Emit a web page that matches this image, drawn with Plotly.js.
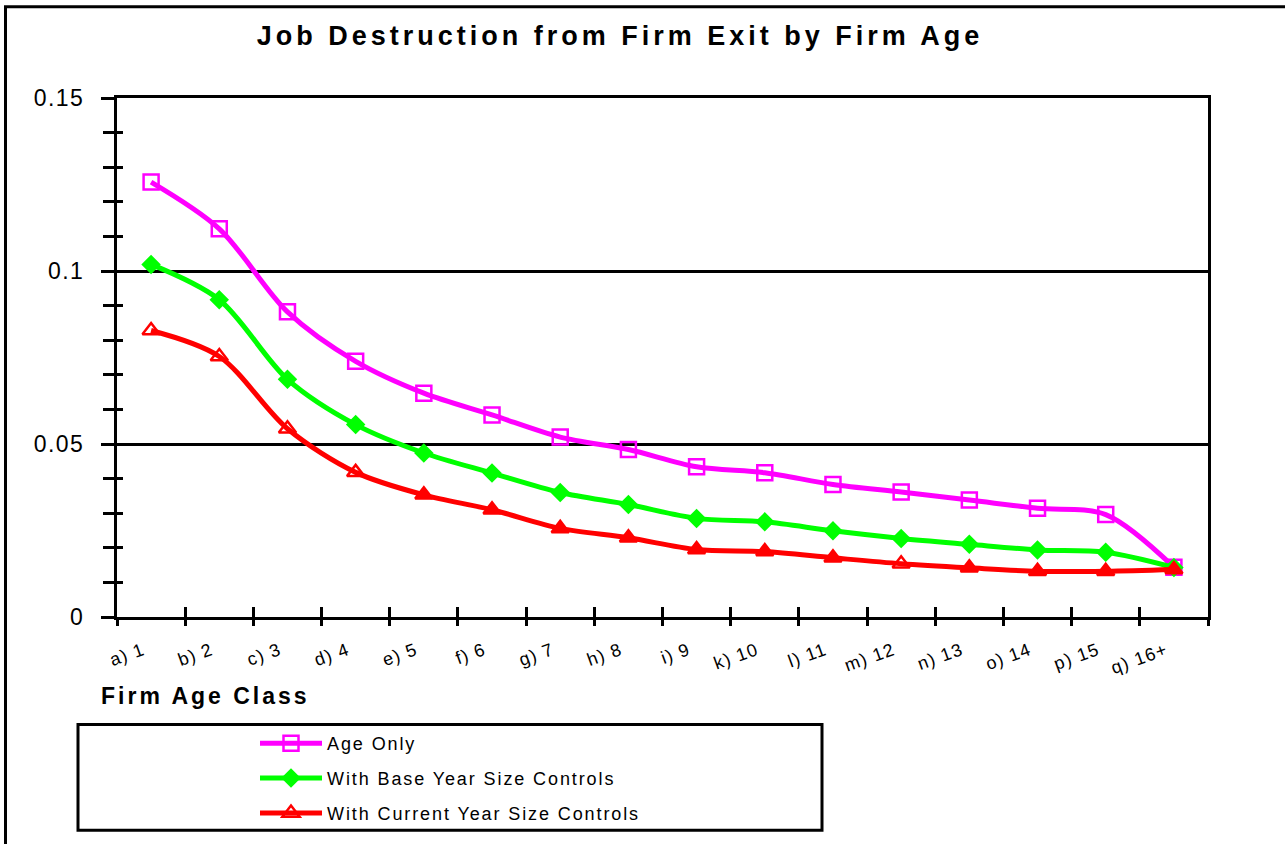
<!DOCTYPE html>
<html>
<head>
<meta charset="utf-8">
<script src="https://cdn.plot.ly/plotly-3.0.1.min.js"></script>
<style>
  html, body { margin: 0; padding: 0; background: #fff; }
  #chart { width: 1285px; height: 844px; }
  .gtitle { letter-spacing: 4px; }
  .legendtext, text[class^="legend"] { letter-spacing: 1.9px; }
  .annotation-text { letter-spacing: 3px; }
  .xtick text { letter-spacing: 1.2px; }
  .ytick text { letter-spacing: 1.5px; }
</style>
</head>
<body>
<div id="chart"></div>
<script>
// ---- data ----
const ageClasses = ["a) 1", "b) 2", "c) 3", "d) 4", "e) 5", "f) 6", "g) 7", "h) 8",
                    "i) 9", "k) 10", "l) 11", "m) 12", "n) 13", "o) 14", "p) 15", "q) 16+"];
const ageOnly = [0.1257, 0.1122, 0.0882, 0.0739, 0.0647, 0.0584, 0.0520, 0.0484,
                 0.0434, 0.0417, 0.0383, 0.0361, 0.0338, 0.0314, 0.0296, 0.0144];
const baseYearSize = [0.1019, 0.0917, 0.0687, 0.0556, 0.0474, 0.0416, 0.0360, 0.0325,
                      0.0285, 0.0275, 0.0249, 0.0227, 0.0210, 0.0194, 0.0187, 0.0143];
const currentYearSize = [0.0828, 0.0753, 0.0544, 0.0418, 0.0353, 0.0310, 0.0256, 0.0229,
                         0.0195, 0.0189, 0.0171, 0.0154, 0.0142, 0.0132, 0.0132, 0.0137];
const seriesNames = ["Age Only", "With Base Year Size Controls", "With Current Year Size Controls"];
const chartTitle = "Job Destruction from Firm Exit by Firm Age";
const xTitle = "Firm Age Class";

// ---- styling ----
const FONT = '"Liberation Sans", Arial, sans-serif';
const openRed = [0, 1, 2, 3, 11]; // points drawn hollow in the original
const redSymbols = currentYearSize.map((v, i) => openRed.includes(i) ? 'triangle-up-open' : 'triangle-up');

const traces = [
  {
    x: ageClasses, y: ageOnly, name: seriesNames[0], type: 'scatter', mode: 'lines+markers',
    line: { color: '#FF00FF', width: 5, shape: 'spline', smoothing: 0.9 },
    marker: { symbol: 'square-open', size: 15, color: '#FF00FF', line: { width: 2.5, color: '#FF00FF' } },
    legend: 'legend'
  },
  {
    x: ageClasses, y: baseYearSize, name: seriesNames[1], type: 'scatter', mode: 'lines+markers',
    line: { color: '#00FF00', width: 5, shape: 'spline', smoothing: 0.9 },
    marker: { symbol: 'diamond', size: 15, color: '#00FF00' },
    legend: 'legend2'
  },
  {
    x: ageClasses, y: currentYearSize, name: seriesNames[2], type: 'scatter', mode: 'lines+markers',
    line: { color: '#FF0000', width: 5, shape: 'spline', smoothing: 0.9 },
    marker: { symbol: redSymbols, size: 15, color: '#FF0000', line: { width: 2.5, color: '#FF0000' } },
    legend: 'legend3'
  },
  { // carrier for the overlay tick axes (no visible marks)
    x: [null], y: [null], xaxis: 'x2', yaxis: 'y2', type: 'scatter', mode: 'markers',
    showlegend: false, hoverinfo: 'skip'
  }
];

const L = 117, R = 77, T = 98, B = 225;
const PW = 1285 - L - R, PH = 844 - T - B;
const px = v => (v - L) / PW;
const py = v => (844 - B - v) / PH;

const legendCommon = {
  xanchor: 'left', yanchor: 'middle', bgcolor: 'rgba(0,0,0,0)', borderwidth: 0,
  font: { family: FONT, size: 18, color: '#000' }, itemwidth: 62
};

const layout = {
  width: 1285, height: 844,
  margin: { l: L, r: R, t: T, b: B },
  paper_bgcolor: '#fff', plot_bgcolor: '#fff',
  showlegend: true,
  title: {
    text: chartTitle, xref: 'paper', x: px(620), xanchor: 'center',
    yref: 'container', y: 1 - 36 / 844, yanchor: 'middle',
    font: { family: FONT, size: 27, weight: 700, color: '#000' }
  },
  xaxis: {
    type: 'category', categoryorder: 'array', categoryarray: ageClasses,
    range: [-0.5, ageClasses.length - 0.5],
    showline: true, linewidth: 3, linecolor: '#000', mirror: true,
    ticks: 'outside', tickson: 'boundaries', ticklen: 6, tickwidth: 3, tickcolor: '#000',
    tickangle: -20, tickfont: { family: FONT, size: 18, color: '#000' },
    ticklabelstandoff: 13, ticklabelshift: -8,
    showgrid: false, zeroline: false, automargin: false
  },
  yaxis: {
    range: [0, 0.15], dtick: 0.05, tick0: 0,
    showline: true, linewidth: 3, linecolor: '#000', mirror: true,
    ticks: 'outside', ticklen: 13, tickwidth: 3, tickcolor: '#000',
    tickfont: { family: FONT, size: 23, color: '#000' }, ticklabelstandoff: 12,
    showgrid: true, gridcolor: '#000', gridwidth: 3, zeroline: false, automargin: false,
    minor: { dtick: 0.01, tick0: 0, ticks: 'outside', ticklen: 11, tickwidth: 3, tickcolor: '#000', showgrid: false }
  },
  xaxis2: {
    overlaying: 'x', anchor: 'y', side: 'bottom', range: [0, ageClasses.length], tick0: 0, dtick: 1,
    ticks: 'inside', ticklen: 10, tickwidth: 3, tickcolor: '#000',
    showticklabels: false, showgrid: false, zeroline: false, showline: false, fixedrange: true
  },
  yaxis2: {
    overlaying: 'y', anchor: 'x', side: 'left', range: [0, 0.15], tick0: 0, dtick: 0.01,
    ticks: 'inside', ticklen: 6, tickwidth: 3, tickcolor: '#000',
    showticklabels: false, showgrid: false, zeroline: false, showline: false, fixedrange: true
  },
  legend: Object.assign({ x: px(255), y: py(746) }, legendCommon),
  legend2: Object.assign({ x: px(255), y: py(781) }, legendCommon),
  legend3: Object.assign({ x: px(255), y: py(816) }, legendCommon),
  annotations: [{
    text: xTitle, xref: 'paper', yref: 'paper', x: px(99), y: py(698),
    xanchor: 'left', yanchor: 'middle', showarrow: false,
    font: { family: FONT, size: 23, weight: 700, color: '#000' }
  }],
  shapes: [
    { type: 'rect', xref: 'paper', yref: 'paper', x0: px(5.5), x1: px(1300), y0: py(6.5), y1: py(900),
      line: { color: '#000', width: 3 }, fillcolor: 'rgba(0,0,0,0)', layer: 'below' },
    { type: 'rect', xref: 'paper', yref: 'paper', x0: px(78), x1: px(822), y0: py(727), y1: py(833),
      line: { color: '#000', width: 3 }, fillcolor: 'rgba(0,0,0,0)', layer: 'below' }
  ]
};

Plotly.newPlot('chart', traces, layout, { displayModeBar: false, staticPlot: true });
</script>
</body>
</html>
